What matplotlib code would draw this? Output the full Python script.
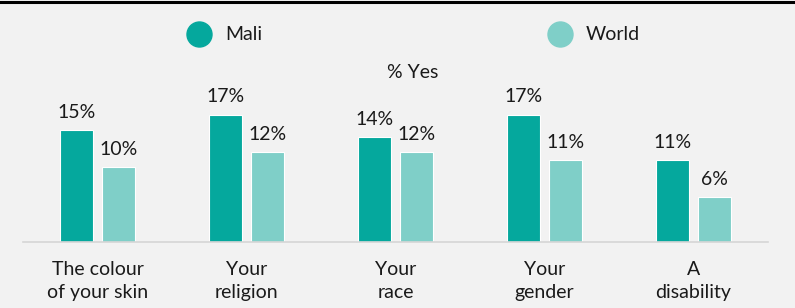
import numpy as np
import matplotlib.pyplot as plt
from matplotlib.lines import Line2D

# Data (% answering "Yes")
categories = ["The colour\nof your skin", "Your\nreligion", "Your\nrace", "Your\ngender", "A\ndisability"]
mali = [15, 17, 14, 17, 11]
world = [10, 12, 12, 11, 6]
series_names = ["Mali", "World"]

mali_color = "#05a89d"
world_color = "#7fcfc8"
bg = "#f2f2f2"
text_color = "#1a1a1a"

plt.rcParams['font.family'] = ['Lato', 'DejaVu Sans']
fs = 14

W, H = 795, 308
fig = plt.figure(figsize=(W / 100, H / 100), dpi=100, facecolor=bg)

# axes placed in pixel terms: baseline at y=242 px, x from 23 to 768 px
ax = fig.add_axes([23 / W, 66 / H, 745 / W, 165 / H], facecolor=bg)

x = np.arange(len(categories))
bw = 0.22
off = 0.142

b1 = ax.bar(x - off, mali, width=bw, color=mali_color, edgecolor="white", linewidth=0.8)
b2 = ax.bar(x + off, world, width=bw, color=world_color, edgecolor="white", linewidth=0.8)

for bars, vals in [(b1, mali), (b2, world)]:
    for rect, v in zip(bars, vals):
        ax.annotate(f"{v}%", (rect.get_x() + rect.get_width() / 2, v),
                    xytext=(0, 9), textcoords="offset pixels",
                    ha="center", va="bottom", fontsize=fs, color=text_color)

ax.set_xlim(-0.5, len(categories) - 0.5)
ax.set_ylim(0, 22)
ax.set_xticks(x)
ax.set_xticklabels(categories, fontsize=fs, color=text_color, linespacing=1.42)
ax.tick_params(axis="x", length=0, pad=14)
ax.set_yticks([])
for side in ["top", "right", "left"]:
    ax.spines[side].set_visible(False)
ax.spines["bottom"].set_color("#d6d6d6")
ax.spines["bottom"].set_linewidth(1.2)

# legend drawn as circles + labels in figure pixels
fig.add_artist(Line2D([199 / W], [1 - 34 / H], marker="o", markersize=18,
                      color=mali_color, transform=fig.transFigure))
fig.text(225 / W, 1 - 34 / H, series_names[0], fontsize=fs, color=text_color, va="center")
fig.add_artist(Line2D([560 / W], [1 - 34 / H], marker="o", markersize=18,
                      color=world_color, transform=fig.transFigure))
fig.text(586 / W, 1 - 34 / H, series_names[1], fontsize=fs, color=text_color, va="center")

fig.text(413 / W, 1 - 72 / H, "% Yes", fontsize=fs, color=text_color, ha="center", va="center")

# black rule at the very top
fig.add_artist(Line2D([0, 1], [1 - 1.5 / H, 1 - 1.5 / H], color="black", linewidth=2.2,
                      transform=fig.transFigure))

fig.savefig("out.png", dpi=100, facecolor=bg)
